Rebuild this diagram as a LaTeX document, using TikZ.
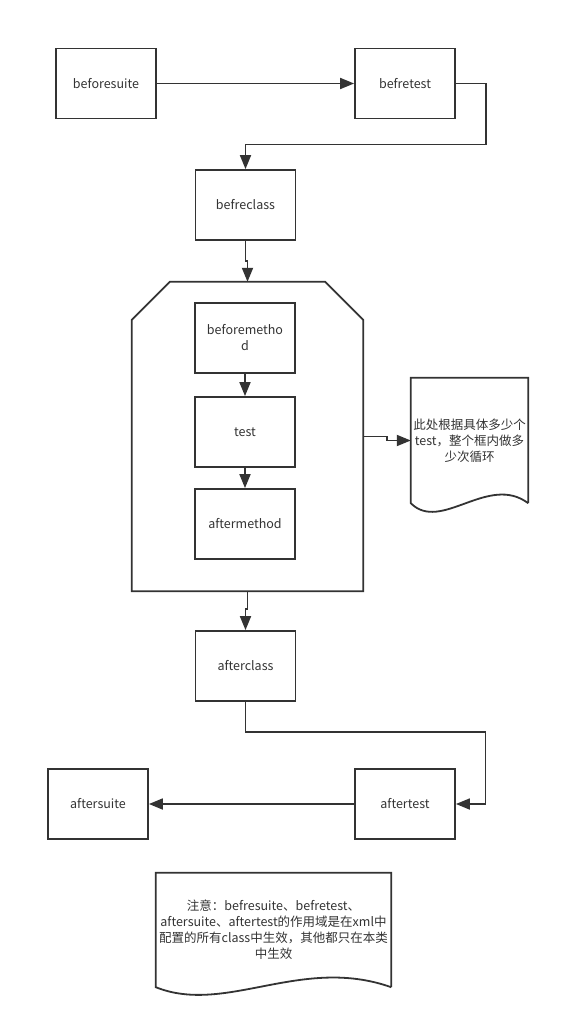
\documentclass[tikz,border=0pt]{standalone}
\usepackage{fontspec}
\setmainfont{Noto Sans CJK SC}
\usetikzlibrary{arrows.meta,calc,positioning}
\definecolor{flowline}{RGB}{51,51,51}
\definecolor{flowtext}{RGB}{51,51,51}

\begin{document}
\begin{tikzpicture}[x=1pt, y=-1pt,
  font=\fontsize{12.5}{16}\selectfont,
  stagebox/.style={draw=flowline, line width=1.8pt, minimum width=100pt,
    minimum height=70pt, inner sep=2pt, align=center, text=flowtext},
  holder/.style={inner sep=0pt, align=center, text=flowtext},
  outline/.style={draw=flowline, line width=1.8pt, line join=miter},
  flow/.style={draw=flowline, line width=1.8pt,
    -{Triangle[length=14pt,width=11pt]}}]

\useasboundingbox (0,0) rectangle (560,1036);

%% ── SETUP STAGES ──────────────────────────────────────────────
\node[stagebox] (beforesuite) at (106,83.5)  {beforesuite};
\node[stagebox] (befretest)   at (405,83.5)  {befretest};
\node[stagebox] (befreclass)  at (245.5,205) {befreclass};

%% ── LOOP FRAME (top corners cut) ──────────────────────────────
\node[holder, minimum width=231pt, minimum height=309pt]
  (loop) at (247.5,436.5) {};
\draw[outline]
  ($(loop.north west)+(38,0)$) -- ($(loop.north east)+(-38,0)$)
  -- ($(loop.north east)+(0,38)$) -- (loop.south east)
  -- (loop.south west) -- ($(loop.north west)+(0,38)$) -- cycle;

% stages inside the loop
\node[stagebox] (beforemethod) at (245,338) {beforemetho\\d};
\node[stagebox] (test)         at (245,432) {test};
\node[stagebox] (aftermethod)  at (245,524) {aftermethod};

%% ── NOTE BESIDE THE LOOP ──────────────────────────────────────
\node[holder, minimum width=117pt, minimum height=125pt]
  (note1) at (469.5,440.5)
  {此处根据具体多少个\\test，整个框内做多\\少次循环};
\draw[outline]
  (note1.south east) -- (note1.north east) -- (note1.north west)
  -- (note1.south west)
  .. controls +(30,30) and +(-40,-30) .. (note1.south east);

%% ── TEARDOWN STAGES ───────────────────────────────────────────
\node[stagebox] (afterclass) at (245.5,666) {afterclass};
\node[stagebox] (aftertest)  at (405,804)   {aftertest};
\node[stagebox] (aftersuite) at (98,804)    {aftersuite};

%% ── NOTE AT THE BOTTOM ────────────────────────────────────────
\node[holder, minimum width=235pt, minimum height=114pt]
  (note2) at (273.5,930)
  {注意：befresuite、befretest、\\aftersuite、aftertest的作用域是在xml中\\配置的所有class中生效，其他都只在本类\\中生效};
\draw[outline]
  (note2.south east) -- (note2.north east) -- (note2.north west)
  -- (note2.south west)
  .. controls +(70,28) and +(-90,-32) .. (note2.south east);

%% ── CONNECTORS ────────────────────────────────────────────────
\draw[flow] (beforesuite) -- (befretest);
\draw[flow] (befretest.east) -| ++(30,61) -| (befreclass.north);
\draw[flow] (befreclass.south) -- ++(0,20) -| (loop.north);
\draw[flow] (beforemethod) -- (test);
\draw[flow] (test) -- (aftermethod);
\draw[flow] (loop.east) -- ++(24,0) |- (note1.west);
\draw[flow] (loop.south) -- ++(0,18) -| (afterclass.north);
\draw[flow] (afterclass.south) |- ++(240,30) |- (aftertest.east);
\draw[flow] (aftertest) -- (aftersuite);

\end{tikzpicture}
\end{document}
